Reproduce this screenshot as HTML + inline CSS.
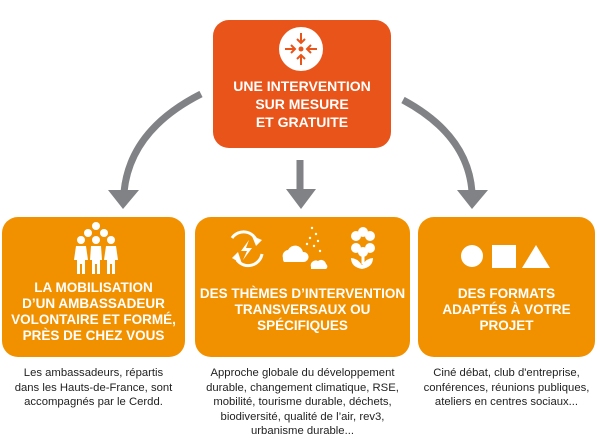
<!DOCTYPE html>
<html><head><meta charset="utf-8"><style>
body{margin:0;width:600px;height:440px;background:#fff;overflow:hidden;font-family:"Liberation Sans",sans-serif}
.b{position:absolute;color:#fff;font-weight:bold;text-align:center;font-size:13.5px;line-height:16px}
.c{position:absolute;color:#222;text-align:center;font-size:11.3px;line-height:14.5px}
</style></head><body>
<svg width="600" height="440" style="position:absolute;left:0;top:0">
<g fill="none" stroke="#808285" stroke-width="7">
<path d="M201 94 Q130 130 124 192"/>
<path d="M300 160 L300 192"/>
<path d="M403 100 Q468 135 472 192"/>
</g>
<g fill="#808285">
<polygon points="108,190 139,190 123,209"/>
<polygon points="286,189 316,189 301,209"/>
<polygon points="457,190 488,190 472,209"/>
</g>
<rect x="213" y="20" width="178" height="128" rx="16" fill="#E8541A"/>
<circle cx="301" cy="49" r="22" fill="#fff"/>
<g stroke="#E8541A" stroke-width="2" fill="none">
<path d="M301 33v10M297 39l4 4 4-4M301 65v-10M297 59l4-4 4 4M285 49h10M291 45l4 4-4 4M317 49h-10M311 45l-4 4 4 4"/>
</g>
<circle cx="301" cy="49" r="2.5" fill="#E8541A"/>
<rect x="2" y="217" width="183" height="140" rx="16" fill="#F29100"/>
<rect x="195" y="217" width="215" height="140" rx="16" fill="#F29100"/>
<rect x="418" y="217" width="177" height="140" rx="16" fill="#F29100"/>
<g fill="#fff">
<circle cx="96" cy="226" r="4"/><circle cx="88" cy="233" r="4"/><circle cx="104" cy="233" r="4"/>
<circle cx="81" cy="240" r="4"/><circle cx="96" cy="240" r="4"/><circle cx="111" cy="240" r="4"/>
<path d="M76 246h10l2 14h-3v14h-3v-10h-2v10h-3v-14h-3z"/>
<path d="M91 246h10l1 14h-2v14h-3v-10h-2v10h-3v-14h-2z"/>
<path d="M106 246h10l2 14h-3v14h-3v-10h-2v10h-3v-14h-3z"/>
</g>
<g fill="none" stroke="#fff" stroke-width="3">
<path d="M232 238 A14 14 0 0 1 257 242"/><path d="M262 254 A14 14 0 0 1 237 260"/>
</g>
<g fill="#fff">
<polygon points="252,236 262,240 256,246"/><polygon points="242,264 232,258 238,252"/>
<polygon points="249,240 241,251 247,251 243,260 252,248 246,248"/>
<path d="M283 258a6 6 0 0 1 5-8a8 8 0 0 1 15 2a5 5 0 0 1 1 10h-20a5 5 0 0 1 -1 -4z"/>
<path d="M311 267a5 5 0 0 1 7-6a5 5 0 0 1 8 3a3 3 0 0 1 0 5h-15z"/>
<circle cx="312" cy="228" r="1.2"/><circle cx="316" cy="234" r="1.2"/><circle cx="310" cy="238" r="1.2"/><circle cx="318" cy="241" r="1.2"/><circle cx="314" cy="246" r="1.2"/><circle cx="320" cy="251" r="1.2"/><circle cx="307" cy="244" r="1.2"/>
<circle cx="356" cy="236" r="5"/><circle cx="370" cy="236" r="5"/><circle cx="356" cy="248" r="5"/><circle cx="370" cy="248" r="5"/><circle cx="363" cy="232" r="5"/><circle cx="363" cy="252" r="5"/>
<path d="M351 258q6 0 11 7q5-7 11-7q0 9-11 11q-11-2-11-11z"/><rect x="361.5" y="250" width="3" height="14"/>
</g>
<circle cx="363" cy="242" r="4" fill="#F29100"/>
<g fill="#fff">
<circle cx="472" cy="256" r="11"/>
<rect x="492" y="245" width="24" height="23"/>
<polygon points="536,245 550,268 522,268"/>
</g>
</svg>
<div class="b" style="left:213px;top:77px;width:178px;font-size:14px;line-height:18px">UNE INTERVENTION<br>SUR MESURE<br>ET GRATUITE</div>
<div class="b" style="left:2px;top:280px;width:183px">LA MOBILISATION<br>D’UN AMBASSADEUR<br>VOLONTAIRE ET FORMÉ,<br>PRÈS DE CHEZ VOUS</div>
<div class="b" style="left:195px;top:286px;width:215px">DES THÈMES D’INTERVENTION<br>TRANSVERSAUX OU<br>SPÉCIFIQUES</div>
<div class="b" style="left:418px;top:286px;width:177px">DES FORMATS<br>ADAPTÉS À VOTRE<br>PROJET</div>
<div class="c" style="left:0;top:366px;width:187px">Les ambassadeurs, répartis<br>dans les Hauts-de-France, sont<br>accompagnés par le Cerdd.</div>
<div class="c" style="left:193px;top:366px;width:219px">Approche globale du développement<br>durable, changement climatique, RSE,<br>mobilité, tourisme durable, déchets,<br>biodiversité, qualité de l’air, rev3,<br>urbanisme durable...</div>
<div class="c" style="left:414px;top:366px;width:185px">Ciné débat, club d'entreprise,<br>conférences, réunions publiques,<br>ateliers en centres sociaux...</div>
</body></html>
